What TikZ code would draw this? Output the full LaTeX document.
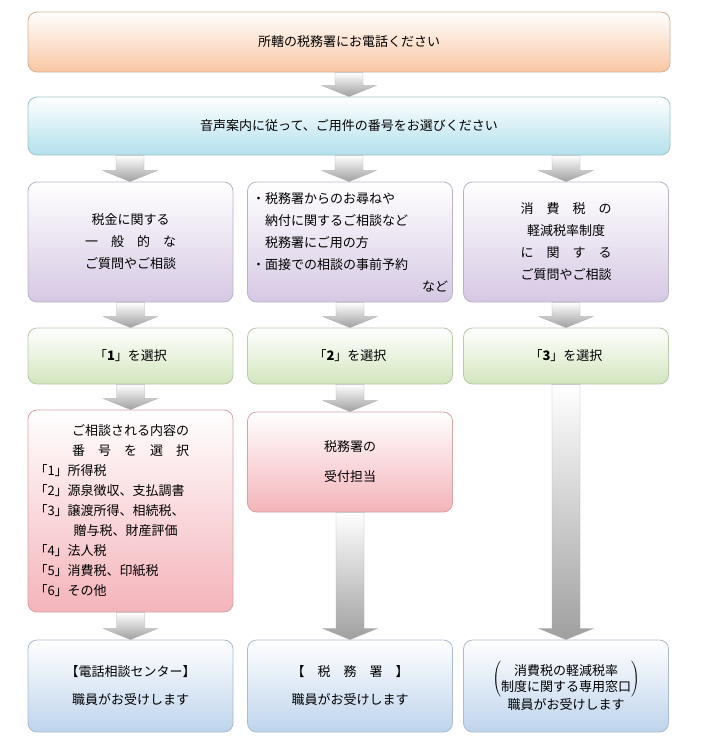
\documentclass[tikz,border=0pt]{standalone}
\usepackage{fontspec}
\setmainfont{Noto Sans CJK JP}
\usetikzlibrary{calc}

\tikzset{
  stage/.style={rectangle, rounded corners=9pt, draw=#1!70!gray, line width=0.8pt,
    top color=white, bottom color=#1, align=center, inner sep=4pt,
    font=\fontsize{13}{22}\selectfont},
  toprow/.style={stage=peach, minimum width=642, minimum height=60},
  guiderow/.style={stage=skyblue, minimum width=642, minimum height=58},
  askbox/.style={stage=lilac, minimum width=205, minimum height=120},
  pickbox/.style={stage=leaf, minimum width=205, minimum height=56},
  deskbox/.style={stage=rose, minimum width=205},
  endbox/.style={stage=steel, minimum width=205, minimum height=92},
}
\definecolor{peach}{HTML}{F8C6A2}
\definecolor{skyblue}{HTML}{B2E0EC}
\definecolor{lilac}{HTML}{D6C8E4}
\definecolor{leaf}{HTML}{D3E6BE}
\definecolor{rose}{HTML}{F4B4BA}
\definecolor{steel}{HTML}{BED4EC}

% gray block arrow from one anchor down to another
\newcommand{\blockarrow}[2]{
  \path let \p1=#1, \p2=#2 in
    [top color=white, bottom color=gray!75, draw=gray!60, line width=0.4pt]
    (\x1-14, \y1) -- (\x1+14, \y1) -- (\x1+14, \y2+11) -- (\x1+27, \y2+11)
    -- (\x1, \y2) -- (\x1-27, \y2+11) -- (\x1-14, \y2+11) -- cycle;
}

\begin{document}
\begin{tikzpicture}[x=1pt, y=-1pt]
  \useasboundingbox (0,0) rectangle (701,744);

  % top rows
  \node[toprow] (call) at (349,42) {所轄の税務署にお電話ください};
  \node[guiderow] (guide) at (349,126) {音声案内に従って、ご用件の番号をお選びください};

  % questions
  \node[askbox] (ask1) at (130.5,242) {税金に関する\\一　般　的　な\\ご質問やご相談};
  \node[askbox, text width=196, align=left] (ask2) at (350,242)
    {・税務署からのお尋ねや\\\hspace*{1em}納付に関するご相談など\\\hspace*{1em}税務署にご用の方\\・面接での相談の事前予約\\\hfill など\hspace*{1em}};
  \node[askbox] (ask3) at (566,242) {消　費　税　の\\軽減税率制度\\に　関　す　る\\ご質問やご相談};

  % number choice
  \node[pickbox] (pick1) at (130.5,356) {「\textbf{1}」を選択};
  \node[pickbox] (pick2) at (350,356) {「\textbf{2}」を選択};
  \node[pickbox] (pick3) at (566,356) {「\textbf{3}」を選択};

  % reception
  \node[deskbox, minimum height=202, text width=192, align=left,
    font=\fontsize{13}{20}\selectfont] (desk1) at (130.5,511)
    {\centering ご相談される内容の\\番　号　を　選　択\par\raggedright
     「1」所得税\\「2」源泉徴収、支払調書\\「3」譲渡所得、相続税、\\\hspace*{3em}贈与税、財産評価\\「4」法人税\\「5」消費税、印紙税\\「6」その他};
  \node[deskbox, minimum height=100, font=\fontsize{13}{30}\selectfont] (desk2) at (350,462)
    {税務署の\\受付担当};

  % answer desks
  \node[endbox] (end1) at (130.5,686) {【電話相談センター】\\[6pt]職員がお受けします};
  \node[endbox] (end2) at (350,686) {【　税　務　署　】\\[6pt]職員がお受けします};
  \node[endbox, font=\fontsize{13}{18}\selectfont] (end3) at (566,686)
    {$\left(\mbox{\begin{tabular}{@{}c@{}}消費税の軽減税率\\[-2pt]制度に関する専用窓口\end{tabular}}\right)$\\職員がお受けします};

  % arrows
  \blockarrow{(call.south)}{(guide.north)}
  \blockarrow{($(guide.south)+(-219,0)$)}{(ask1.north)}
  \blockarrow{(guide.south)}{(ask2.north)}
  \blockarrow{($(guide.south)+(217,0)$)}{(ask3.north)}
  \foreach \k in {1,2,3}{
    \blockarrow{(ask\k.south)}{(pick\k.north)}
  }
  \blockarrow{(pick1.south)}{(desk1.north)}
  \blockarrow{(pick2.south)}{(desk2.north)}
  \blockarrow{(desk1.south)}{(end1.north)}
  \blockarrow{(desk2.south)}{(end2.north)}
  \blockarrow{(pick3.south)}{(end3.north)}
\end{tikzpicture}
\end{document}
